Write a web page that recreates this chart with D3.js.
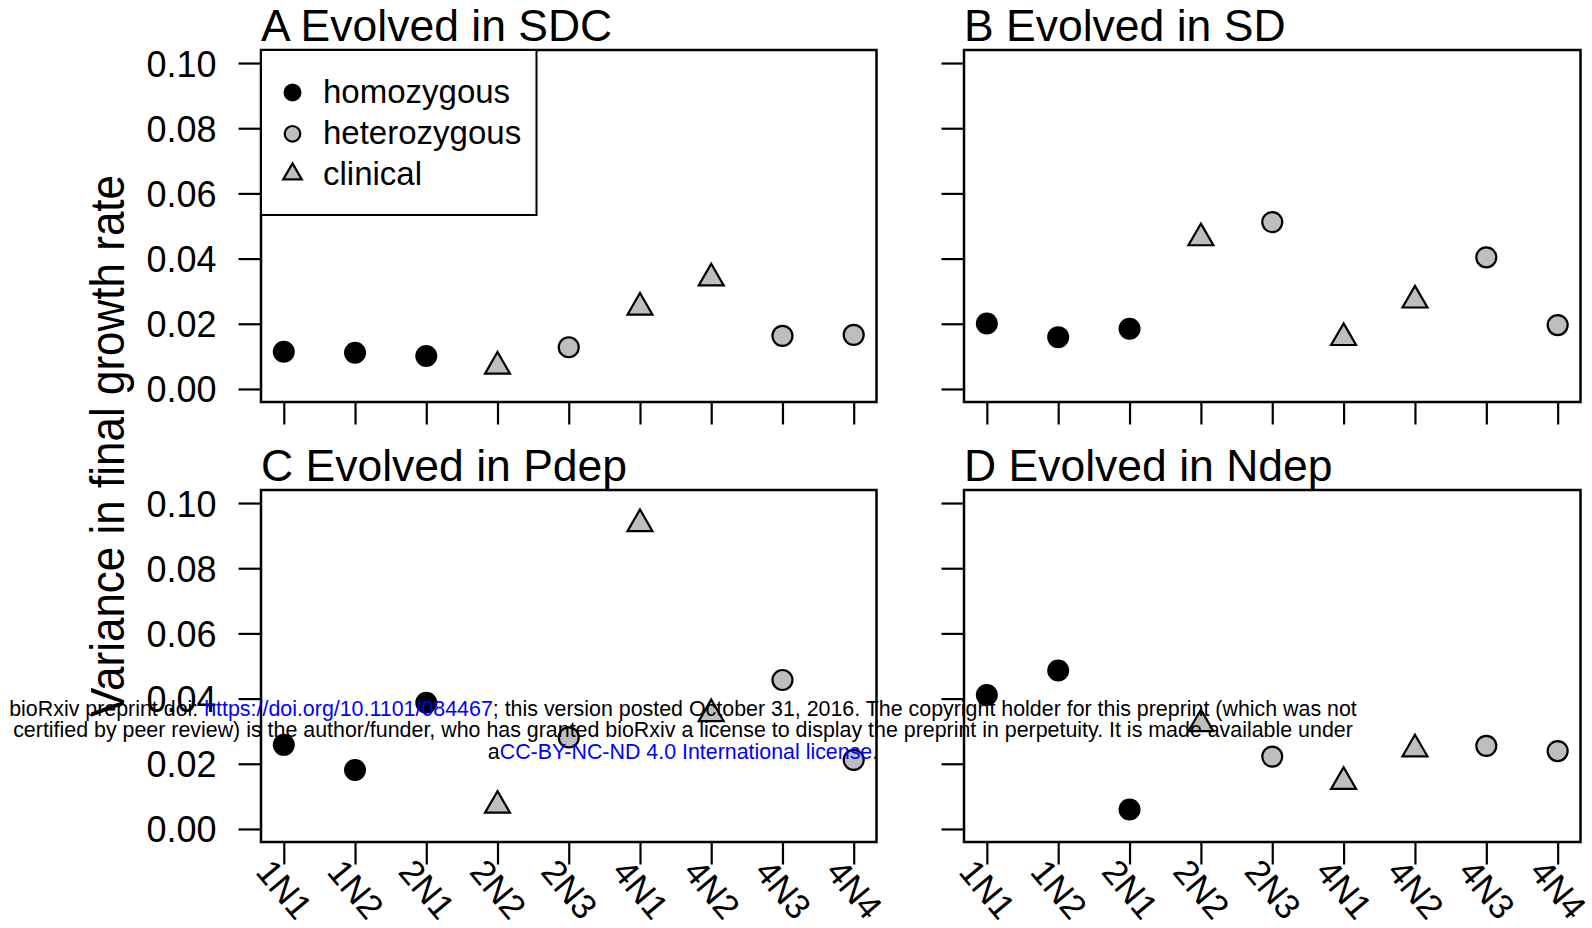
<!DOCTYPE html>
<html>
<head>
<meta charset="utf-8">
<script src="https://cdn.jsdelivr.net/npm/d3@7"></script>
<style>
  html, body { margin: 0; padding: 0; background: #fff; }
  svg { display: block; }
  text { font-family: "Liberation Sans", Arial, Helvetica, sans-serif; fill: #000; }
</style>
</head>
<body>
<svg id="chart" width="1592" height="928"></svg>
<script>
// ---------------- data ----------------
const strains = ["1N1", "1N2", "2N1", "2N2", "2N3", "4N1", "4N2", "4N3", "4N4"];
const strainTypes = ["homozygous", "homozygous", "homozygous", "clinical", "heterozygous",
                     "clinical", "clinical", "heterozygous", "heterozygous"];
const panelTitles = ["A Evolved in SDC", "B Evolved in SD", "C Evolved in Pdep", "D Evolved in Ndep"];
const varSDC  = [0.0114, 0.0111, 0.0101, 0.0069, 0.0128, 0.0250, 0.0340, 0.0163, 0.0166];
const varSD   = [0.0201, 0.0159, 0.0185, 0.0463, 0.0512, 0.0157, 0.0272, 0.0404, 0.0196];
const varPdep = [0.0258, 0.0181, 0.0387, 0.0072, 0.0281, 0.0936, 0.0353, 0.0457, 0.0212];
const varNdep = [0.0411, 0.0486, 0.0060, 0.0322, 0.0222, 0.0145, 0.0245, 0.0255, 0.0239];
const yTicks = [0, 0.02, 0.04, 0.06, 0.08, 0.10];
const legendLabels = ["homozygous", "heterozygous", "clinical"];
const yAxisTitle = "Variance in final growth rate";

// ---------------- layout ----------------
const svg = d3.select("#chart");
const panels = [
  { x0: 261, x1: 876.5, y0: 50,  y1: 402, values: varSDC,  yLabels: true,  xLabels: false, legend: true },
  { x0: 964, x1: 1580.5, y0: 50, y1: 402, values: varSD,   yLabels: false, xLabels: false, legend: false },
  { x0: 261, x1: 876.5, y0: 490, y1: 842, values: varPdep, yLabels: true,  xLabels: true,  legend: false },
  { x0: 964, x1: 1580.5, y0: 490, y1: 842, values: varNdep, yLabels: false, xLabels: true,  legend: false }
];
const GREY = "#bebebe";
const triArea = 270;
const triLegendArea = 150;

function drawMarker(g, type, cx, cy, big) {
  if (type === "homozygous") {
    g.append("circle").attr("cx", cx).attr("cy", cy).attr("r", big ? 11 : 9).attr("fill", "#000");
  } else if (type === "heterozygous") {
    g.append("circle").attr("cx", cx).attr("cy", cy).attr("r", big ? 10 : 7.8)
      .attr("fill", GREY).attr("stroke", "#000").attr("stroke-width", 2.2);
  } else {
    g.append("path")
      .attr("d", d3.symbol(d3.symbolTriangle, big ? triArea : triLegendArea)())
      .attr("transform", `translate(${cx},${cy})`)
      .attr("fill", GREY).attr("stroke", "#000").attr("stroke-width", 2.2)
      .attr("stroke-linejoin", "miter");
  }
}

panels.forEach((p, i) => {
  const g = svg.append("g");
  const x = d3.scaleLinear().domain([0.68, 9.32]).range([p.x0, p.x1]);
  const y = d3.scaleLinear().domain([-0.004, 0.104]).range([p.y1, p.y0]);

  // y axis
  const yAxis = d3.axisLeft(y).tickValues(yTicks).tickSize(22.5).tickPadding(22)
    .tickFormat(p.yLabels ? d3.format(".2f") : () => "");
  const ya = g.append("g").attr("transform", `translate(${p.x0},0)`).call(yAxis);
  ya.select(".domain").remove();
  ya.selectAll("line").attr("stroke", "#000").attr("stroke-width", 2.2);
  ya.selectAll("text").attr("font-size", 36).attr("font-family", "Liberation Sans, Arial, sans-serif")
    .attr("fill", "#000").attr("dy", "0.36em");

  // x axis
  const xAxis = d3.axisBottom(x).tickValues(d3.range(1, 10)).tickSize(22.5).tickFormat(() => "");
  const xa = g.append("g").attr("transform", `translate(0,${p.y1})`).call(xAxis);
  xa.select(".domain").remove();
  xa.selectAll("line").attr("stroke", "#000").attr("stroke-width", 2.2);

  if (p.xLabels) {
    g.selectAll(".xl").data(strains).enter().append("text")
      .attr("class", "xl")
      .attr("transform", (d, k) => `translate(${x(k + 1) + 1},${p.y1 + 47}) rotate(50)`)
      .attr("text-anchor", "middle")
      .attr("dy", "0.36em")
      .attr("font-size", 35)
      .text(d => d);
  }

  // box
  g.append("rect").attr("x", p.x0).attr("y", p.y0)
    .attr("width", p.x1 - p.x0).attr("height", p.y1 - p.y0)
    .attr("fill", "none").attr("stroke", "#000").attr("stroke-width", 2.5);

  // title
  g.append("text").attr("x", p.x0).attr("y", p.y0 - 9)
    .attr("font-size", 44.5).text(panelTitles[i]);

  // points
  p.values.forEach((v, k) => drawMarker(g, strainTypes[k], x(k + 1), y(v), true));

  // legend
  if (p.legend) {
    const lg = g.append("g");
    lg.append("rect").attr("x", p.x0).attr("y", p.y0).attr("width", 536.5 - p.x0).attr("height", 215 - p.y0)
      .attr("fill", "#fff").attr("stroke", "#000").attr("stroke-width", 2);
    legendLabels.forEach((lab, k) => {
      const cy = 92.5 + k * 41.3;
      drawMarker(lg, lab, 292.5, k === 2 ? cy - 1 : cy, false);
      lg.append("text").attr("x", 323).attr("y", cy + 10).attr("font-size", 33).text(lab);
    });
  }
});

// y axis title
svg.append("text")
  .attr("transform", "translate(124,446) scale(1.1,1) rotate(-90)")
  .attr("text-anchor", "middle")
  .attr("font-size", 44)
  .text(yAxisTitle);

// bioRxiv footer overlay
const foot = svg.append("g").attr("font-size", 21.4);
const footLines = [
  [["bioRxiv preprint doi: ", "#000"], ["https://doi.org/10.1101/084467", "#0000ff"],
   ["; this version posted October 31, 2016. The copyright holder for this preprint (which was not", "#000"]],
  [["certified by peer review) is the author/funder, who has granted bioRxiv a license to display the preprint in perpetuity. It is made available under", "#000"]],
  [["a", "#000"], ["CC-BY-NC-ND 4.0 International license", "#0000ff"], [".", "#000"]]
];
footLines.forEach((segs, k) => {
  const t = foot.append("text").attr("x", 683).attr("y", 715.5 + k * 21.5).attr("text-anchor", "middle");
  segs.forEach(s => t.append("tspan").style("fill", s[1]).text(s[0]));
});
</script>
</body>
</html>
